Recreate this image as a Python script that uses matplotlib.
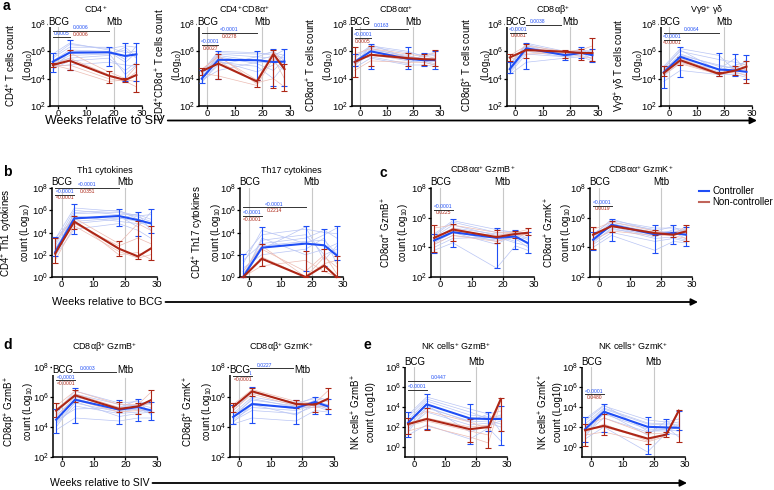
import numpy as np
import matplotlib
matplotlib.use("Agg")
import matplotlib.pyplot as plt
from matplotlib.lines import Line2D
from matplotlib.ticker import LogFormatterSciNotation, NullLocator

plt.rcParams['font.family'] = ['Liberation Sans', 'DejaVu Sans']
plt.rcParams['mathtext.fontset'] = 'custom'
plt.rcParams['mathtext.rm'] = 'Liberation Sans'
plt.rcParams['mathtext.it'] = 'Liberation Sans:italic'
plt.rcParams['mathtext.bf'] = 'Liberation Sans:bold'

BLUE = '#1f4ef5'; RED = '#ad2616'; LBLUE = '#b9c5f4'; LRED = '#ecbcb3'
W, H = 774, 490

# weeks of sampling; all values below are log10 counts
weeks = [-2, 4, 18, 24, 28]

# rows: mean, lower whisker, upper whisker
cd4_ctrl = [[5.24, 5.9, 5.93, 5.66, 5.78], [4.5, 4.6, 4.9, 3.8, 3.8], [5.85, 6.8, 6.35, 6.6, 6.6]]
cd4_nc = [[5.0, 5.32, 4.22, 3.9, 4.27], [4.85, 4.6, 3.7, 3.75, 3.05], [5.15, 6.1, 4.55, 4.05, 5.1]]
cd4_ind_c = [[5.6, 6.5, 6.2, 6.4, 6.3], [5.3, 6.1, 6.0, 5.2, 5.9], [5.0, 5.7, 5.8, 6.1, 5.5],
             [4.7, 5.3, 5.5, 4.6, 5.2], [5.5, 6.3, 6.3, 5.9, 6.0], [4.9, 5.0, 5.2, 5.0, 4.9],
             [5.8, 6.6, 6.1, 5.4, 6.4], [5.1, 5.5, 5.7, 6.3, 5.6], [4.6, 6.0, 5.9, 4.3, 5.0]]
cd4_ind_n = [[5.1, 5.9, 4.5, 4.0, 4.9], [4.9, 5.0, 4.0, 3.8, 3.4], [5.0, 4.7, 3.8, 3.9, 4.5],
             [5.0, 5.5, 4.3, 3.9, 3.8]]
cd4_sig = [(-2, 18, 7.5, '0.0006', '0.0006'), (-2, 4, 7.05, '0.0005', None)]

dp_ctrl = [[4.0, 5.38, 5.35, 5.22, 5.25], [3.7, 4.0, 3.9, 3.5, 3.5], [4.6, 6.0, 6.0, 6.2, 6.2]]
dp_nc = [[4.55, 5.1, 3.8, 5.8, 4.7], [4.3, 4.0, 3.4, 3.3, 3.1], [4.8, 5.8, 3.9, 6.1, 5.1]]
dp_ind_c = [[4.4, 5.9, 5.8, 5.9, 5.7], [4.1, 5.6, 5.1, 4.6, 5.4], [3.8, 5.0, 5.6, 5.5, 4.9],
            [4.2, 5.3, 4.5, 5.0, 5.8], [3.9, 4.6, 5.2, 5.2, 4.6], [4.0, 5.8, 5.6, 6.0, 5.3],
            [4.5, 6.0, 5.9, 5.7, 6.1], [3.7, 5.2, 4.9, 4.0, 5.0], [4.3, 5.7, 5.3, 5.7, 5.5]]
dp_ind_n = [[4.7, 5.6, 3.9, 6.0, 5.0], [4.4, 4.2, 3.5, 5.5, 4.0], [4.5, 5.3, 3.7, 4.0, 3.4],
            [4.6, 5.7, 3.6, 5.9, 4.6]]
dp_sig = [(-2, 18, 7.35, '<0.0001', '0.0278'), (-2, 4, 6.45, '<0.0001', '0.0027')]

aa_ctrl = [[5.22, 6.0, 5.45, 5.35, 5.35], [4.9, 4.7, 4.7, 4.9, 4.7], [5.8, 6.5, 6.3, 5.9, 6.0]]
aa_nc = [[5.22, 5.75, 5.5, 5.42, 5.4], [4.1, 4.9, 4.9, 5.0, 4.9], [6.3, 6.4, 5.9, 5.8, 6.1]]
aa_ind_c = [[5.5, 6.3, 5.9, 5.7, 5.8], [5.0, 5.8, 5.3, 5.2, 5.0], [5.3, 6.2, 5.6, 5.5, 5.5],
            [4.8, 5.5, 5.0, 5.0, 4.9], [5.6, 6.4, 6.0, 5.6, 5.7], [5.1, 6.1, 5.7, 5.4, 5.4],
            [5.4, 5.6, 5.1, 5.8, 5.9], [4.9, 6.5, 5.5, 5.3, 5.1]]
aa_ind_n = [[5.8, 6.2, 5.8, 5.6, 5.9], [4.6, 5.3, 5.2, 5.2, 5.0], [5.3, 5.7, 5.4, 5.5, 5.3],
            [5.0, 6.0, 5.6, 5.4, 5.6]]
aa_sig = [(-2, 18, 7.62, '0.0163', None), (-2, 4, 6.97, '<0.0001', '0.0005')]

ab_ctrl = [[4.7, 6.22, 5.72, 5.88, 5.72], [4.4, 4.7, 5.4, 5.5, 5.2], [5.2, 6.6, 6.0, 6.3, 6.2]]
ab_nc = [[5.55, 6.1, 5.97, 5.88, 5.88], [5.3, 5.5, 5.5, 5.4, 5.3], [5.8, 6.5, 6.1, 6.2, 7.0]]
ab_ind_c = [[5.0, 6.5, 5.9, 6.1, 6.0], [4.5, 6.0, 5.6, 5.7, 5.5], [4.8, 6.3, 5.8, 6.0, 5.9],
            [4.3, 5.2, 5.5, 5.6, 5.3], [5.1, 6.4, 5.7, 5.9, 5.8], [4.6, 6.1, 5.8, 6.2, 5.6],
            [4.9, 6.6, 6.0, 5.8, 6.1], [4.4, 5.8, 5.6, 5.9, 5.4]]
ab_ind_n = [[5.7, 6.4, 6.0, 6.1, 6.4], [5.4, 5.8, 5.9, 5.6, 5.5], [5.5, 6.2, 6.0, 5.9, 5.9],
            [5.6, 6.0, 5.8, 6.0, 5.7]]
ab_sig = [(-2, 18, 7.92, '0.0038', None), (-2, 4, 7.37, '<0.0001', '0.0081')]

gd_ctrl = [[4.47, 5.6, 4.67, 4.6, 4.5], [3.3, 4.1, 4.2, 4.2, 4.0], [4.9, 6.3, 5.9, 5.8, 5.7]]
gd_nc = [[4.42, 5.35, 4.35, 4.6, 4.88], [4.2, 5.0, 4.2, 4.3, 3.7], [4.9, 5.6, 4.5, 4.9, 5.3]]
gd_ind_c = [[4.8, 6.0, 5.4, 5.2, 5.0], [4.3, 5.4, 4.5, 4.4, 4.3], [4.6, 5.8, 4.9, 4.8, 4.7],
            [3.8, 4.6, 4.3, 4.3, 4.1], [4.7, 6.1, 4.6, 5.0, 5.2], [4.5, 5.7, 5.0, 4.7, 4.8],
            [4.2, 5.2, 4.7, 5.5, 4.5], [4.9, 6.2, 5.7, 4.6, 5.4]]
gd_ind_n = [[4.7, 5.5, 4.4, 4.8, 5.1], [4.3, 5.1, 4.3, 4.5, 4.2], [4.3, 5.4, 4.4, 4.5, 5.0],
            [4.5, 5.2, 4.3, 4.6, 4.7]]
gd_sig = [(-2, 18, 7.37, '0.0064', None), (-2, 4, 6.85, '<0.0001', '<0.0001')]

th1_ctrl = [[2.24, 5.27, 5.48, 5.12, 4.82], [1.9, 3.9, 4.6, 3.7, 4.0], [3.6, 6.6, 6.1, 5.8, 6.1]]
th1_nc = [[2.1, 4.97, 2.55, 1.85, 2.55], [1.3, 4.3, 1.9, 1.6, 1.5], [3.5, 5.5, 3.2, 5.0, 4.6]]
th1_ind_c = [[3.4, 6.2, 5.9, 5.5, 5.6], [2.0, 5.0, 5.3, 5.0, 4.5], [2.8, 5.7, 5.8, 5.4, 5.0],
             [1.9, 4.3, 4.8, 4.2, 3.5], [2.5, 5.5, 5.0, 4.8, 4.9], [3.0, 6.0, 5.6, 5.6, 5.2],
             [2.2, 5.8, 6.0, 5.2, 4.8], [3.5, 5.2, 5.5, 4.5, 5.8], [2.6, 4.8, 5.2, 5.7, 4.2]]
th1_ind_n = [[3.2, 5.3, 3.0, 4.8, 4.2], [1.5, 4.6, 2.3, 1.7, 2.0], [2.0, 5.1, 2.0, 2.2, 1.6],
             [2.5, 4.8, 2.8, 3.5, 3.0]]
th1_sig = [(-2, 18, 8.0, '<0.0001', '0.0351'), (-2, 4, 7.4, '<0.0001', '<0.0001')]

th17_ctrl = [[0.0, 2.64, 3.0, 2.85, 1.94], [0.0, 1.6, 0.5, 1.0, 1.5], [2.1, 4.5, 4.6, 4.3, 4.6]]
th17_nc = [[0.0, 1.64, 0.0, 1.03, 0.0], [0.0, 1.0, 0.0, 0.5, 0.0], [0.0, 3.0, 2.3, 2.5, 1.9]]
th17_ind_c = [[1.8, 3.8, 4.3, 4.0, 3.9], [0.5, 2.8, 3.2, 3.3, 2.1], [0.0, 3.3, 3.8, 2.0, 2.5],
              [0.8, 2.0, 2.5, 3.5, 1.2], [0.0, 3.5, 2.0, 2.5, 3.0], [1.2, 4.2, 3.0, 3.8, 4.4],
              [0.3, 2.5, 4.5, 1.5, 2.8], [1.5, 3.0, 3.5, 4.2, 3.5]]
th17_ind_n = [[0.0, 2.5, 0.5, 2.0, 0.3], [0.0, 1.0, 1.5, 0.5, 0.0], [0.0, 1.8, 0.0, 1.2, 1.5],
              [0.5, 2.8, 0.0, 1.8, 0.9]]
th17_sig = [(-2, 18, 6.27, '<0.0001', '0.2214'), (-2, 4, 5.5, '<0.0001', '<0.0001')]

aab_ctrl = [[4.46, 5.02, 4.64, 4.73, 4.29], [3.6, 4.0, 2.6, 3.9, 3.6], [4.9, 5.9, 5.3, 5.2, 5.0]]
aab_nc = [[4.64, 5.2, 4.69, 4.9, 4.98], [3.7, 4.4, 4.3, 4.6, 4.8], [5.5, 5.6, 5.2, 5.1, 5.3]]
aab_ind_c = [[4.8, 5.7, 5.0, 5.1, 4.9], [4.2, 4.8, 4.5, 4.6, 4.0], [4.6, 5.3, 4.9, 4.9, 4.5],
             [3.8, 4.3, 2.6, 4.1, 3.8], [4.5, 5.1, 4.4, 4.8, 4.3], [4.0, 4.6, 4.7, 4.3, 4.1],
             [4.7, 5.5, 4.8, 4.4, 4.7], [4.3, 5.0, 4.2, 4.9, 4.2], [4.9, 5.8, 5.2, 5.0, 4.6]]
aab_ind_n = [[5.3, 5.5, 5.0, 5.0, 5.2], [4.2, 4.8, 4.4, 4.7, 4.9], [4.5, 5.3, 4.6, 4.9, 5.0],
             [4.8, 5.1, 4.8, 5.0, 4.8]]
aab_sig = [(-2, 4, 6.55, '<0.0001', '0.0225')]

aak_ctrl = [[4.51, 5.52, 4.87, 4.96, 4.85], [3.8, 4.4, 3.6, 4.2, 4.1], [5.0, 5.9, 5.5, 5.5, 5.4]]
aak_nc = [[4.85, 5.43, 4.96, 4.85, 5.07], [3.9, 5.0, 4.8, 4.7, 4.4], [5.4, 5.8, 5.2, 5.0, 5.5]]
aak_ind_c = [[4.9, 5.8, 5.3, 5.3, 5.2], [4.3, 5.3, 4.6, 4.7, 4.5], [4.6, 5.6, 5.0, 5.1, 5.0],
             [4.0, 4.8, 3.8, 4.4, 4.3], [4.7, 5.7, 5.2, 4.8, 5.3], [4.4, 5.2, 4.9, 5.0, 4.6],
             [4.8, 5.9, 5.1, 5.4, 4.9], [4.2, 5.0, 4.4, 4.6, 4.4], [4.6, 5.4, 4.7, 5.2, 5.1]]
aak_ind_n = [[5.2, 5.7, 5.1, 4.9, 5.4], [4.5, 5.1, 4.8, 4.8, 4.6], [4.8, 5.5, 5.0, 4.8, 5.2],
             [4.9, 5.4, 5.0, 4.9, 5.0]]
aak_sig = [(-2, 4, 6.8, '<0.0001', '0.0019')]

abb_ctrl = [[4.49, 5.82, 5.16, 5.33, 5.11], [3.6, 4.3, 4.2, 4.4, 4.5], [5.2, 6.6, 5.8, 5.9, 5.7]]
abb_nc = [[5.09, 6.11, 5.2, 5.38, 5.78], [4.7, 5.7, 5.0, 4.9, 5.0], [5.6, 6.5, 5.7, 5.6, 6.5]]
abb_ind_c = [[5.0, 6.4, 5.6, 5.7, 5.5], [4.3, 5.6, 5.0, 5.2, 5.0], [4.7, 6.0, 5.3, 5.5, 5.3],
             [3.8, 4.6, 4.4, 4.6, 4.6], [4.5, 5.9, 5.1, 5.2, 4.9], [4.2, 5.4, 4.9, 5.0, 5.2],
             [4.9, 6.2, 5.5, 5.4, 5.6], [4.4, 5.2, 5.3, 5.8, 4.8], [4.0, 5.7, 4.7, 4.9, 5.0]]
abb_ind_n = [[5.4, 6.4, 5.5, 5.5, 6.3], [4.8, 5.8, 5.0, 5.1, 5.2], [5.1, 6.1, 5.1, 5.4, 5.8],
             [5.2, 6.2, 5.3, 5.3, 5.6]]
abb_sig = [(-2, 18, 7.69, '0.0003', None), (-2, 4, 7.11, '<0.0001', '<0.0001')]

abk_ctrl = [[4.67, 5.53, 5.27, 5.67, 5.38], [4.2, 4.3, 4.2, 4.9, 4.9], [5.5, 6.7, 5.8, 6.0, 5.9]]
abk_nc = [[5.33, 6.38, 5.53, 5.49, 5.87], [5.0, 6.1, 5.3, 5.0, 5.2], [5.6, 6.6, 5.8, 5.6, 6.6]]
abk_ind_c = [[5.1, 6.3, 5.6, 5.9, 5.7], [4.5, 5.3, 5.1, 5.5, 5.2], [4.8, 5.8, 5.4, 5.7, 5.5],
             [4.2, 4.6, 4.4, 5.1, 5.0], [4.7, 5.6, 5.2, 5.8, 5.3], [4.4, 5.1, 4.9, 5.4, 5.1],
             [4.9, 6.0, 5.5, 6.0, 5.8], [4.3, 5.5, 4.8, 5.6, 5.2], [4.6, 5.9, 5.3, 5.3, 5.5]]
abk_ind_n = [[5.5, 6.5, 5.7, 5.6, 6.4], [5.1, 6.2, 5.4, 5.3, 5.4], [5.3, 6.4, 5.5, 5.5, 5.8],
             [5.4, 6.3, 5.6, 5.4, 5.9]]
abk_sig = [(-2, 18, 7.91, '0.0227', None), (-2, 4, 7.38, '<0.0001', '<0.0001')]

nkb_ctrl = [[2.42, 4.27, 2.86, 2.8, 2.8], [1.0, 1.8, 0.3, 1.6, 0.2], [3.5, 5.3, 4.3, 3.5, 4.1]]
nkb_nc = [[2.29, 2.8, 1.78, 2.0, 4.8], [1.3, 1.7, 0.5, -0.1, 1.6], [2.9, 3.9, 2.8, 2.0, 4.9]]
nkb_ind_c = [[3.2, 5.0, 3.8, 3.3, 3.6], [2.0, 4.0, 2.5, 2.6, 2.3], [2.7, 4.6, 3.2, 3.0, 3.0],
             [1.2, 2.2, 0.8, 1.9, 0.6], [2.5, 4.3, 2.8, 2.9, 2.9], [1.8, 3.5, 2.2, 2.4, 2.0],
             [3.0, 4.8, 3.5, 2.8, 3.2], [2.3, 4.2, 1.5, 2.2, 2.6], [1.5, 3.9, 2.6, 3.3, 1.5]]
nkb_ind_n = [[2.7, 3.6, 2.5, 1.8, 4.9], [1.6, 2.1, 1.0, 0.4, 4.5], [2.4, 2.9, 2.0, 2.2, 4.7],
             [2.1, 2.6, 1.6, 1.2, 4.8]]
nkb_sig = [(-2, 18, 6.62, '0.0447', None), (-2, 4, 5.72, '<0.0001', None)]

nkk_ctrl = [[1.78, 3.53, 2.02, 1.95, 1.92], [0.5, 1.5, -0.7, 1.3, 1.7], [3.0, 4.3, 3.0, 2.8, 3.6]]
nkk_nc = [[1.68, 2.12, 0.84, 1.24, 3.63], [0.1, 1.2, 0.3, 1.0, 0.5], [2.3, 3.3, 1.5, 1.5, 3.7]]
nkk_ind_c = [[2.6, 4.1, 2.7, 2.5, 2.8], [1.5, 3.3, 1.8, 1.7, 1.6], [2.0, 3.8, 2.3, 2.2, 2.3],
             [0.8, 2.0, -0.5, 1.4, 1.2], [1.9, 3.6, 2.0, 2.0, 1.0], [1.3, 2.9, 1.5, 1.8, 2.2],
             [2.3, 3.9, 2.4, 2.3, 2.5], [1.0, 3.5, 1.2, 2.6, 1.9], [2.8, 4.2, 1.6, 1.6, 2.0]]
nkk_ind_n = [[2.1, 2.9, 1.3, 1.4, 3.7], [1.2, 1.5, 0.5, 1.1, 3.5], [1.7, 2.0, 0.8, 1.2, 3.6],
             [1.5, 2.3, 0.6, 1.3, 3.6]]
nkk_sig = [(-2, 4, 5.28, '<0.0001', '0.0480')]

fig = plt.figure(figsize=(W/100, H/100), dpi=100)

def panel(box, title, ylab, ylo, ctrl, nc, ind_c, ind_n, sig, tpad, ldy, vtop, loff):
    l, r, t, b = box
    ax = fig.add_axes([l/W, 1-b/H, (r-l)/W, (b-t)/H])
    for v in (0, 20):
        ax.axvline(v, ymax=vtop, color='#c8c8c8', lw=0.8, zorder=0)
    for row in ind_c:
        ax.plot(weeks, 10**np.array(row), color=LBLUE, lw=0.5, zorder=1, clip_on=False)
    for row in ind_n:
        ax.plot(weeks, 10**np.array(row), color=LRED, lw=0.5, zorder=1, clip_on=False)
    for d, c in ((ctrl, BLUE), (nc, RED)):
        m, lo, hi = (10**np.array(v) for v in d)
        ax.errorbar(weeks, m, yerr=[m-lo, hi-m], color=c, lw=1.5, elinewidth=0.8,
                    capsize=2, capthick=0.8, zorder=3, clip_on=False)
    for x0, x1, y, tb, tr in sig:
        ax.plot([x0, x1], [10**y]*2, color='#333333', lw=0.7, clip_on=False, zorder=4)
        xm = (x0+x1)/2
        if tb: ax.annotate(tb, (xm, 10**y), xytext=(0, 0.5), textcoords='offset points', ha='center', va='bottom', fontsize=3.6, color=BLUE, annotation_clip=False)
        if tr: ax.annotate(tr, (xm, 10**y), xytext=(0, -0.5), textcoords='offset points', ha='center', va='top', fontsize=3.6, color=RED, annotation_clip=False)
    for x, s in ((0, 'BCG'), (20, 'Mtb')):
        ax.annotate(s, (x, 1), xycoords=('data', 'axes fraction'), xytext=(0, ldy*0.72),
                    textcoords='offset points', ha='center', va='center', fontsize=7, zorder=6,
                    bbox=dict(boxstyle='square,pad=0', fc='white', ec='none'))
    ax.set_yscale('log')
    ax.set_ylim(10**ylo, 1e8)
    ax.set_yticks([10**k for k in range(max(ylo, 0), 9, 2)])
    ax.yaxis.set_major_formatter(LogFormatterSciNotation())
    ax.yaxis.set_minor_locator(NullLocator())
    ax.set_xlim(-3, 30)
    ax.set_xticks([0, 10, 20, 30])
    for s in ('top', 'right'):
        ax.spines[s].set_visible(False)
    for s in ('left', 'bottom'):
        ax.spines[s].set_linewidth(1.1)
    ax.tick_params(labelsize=6.8, length=2, width=0.9, pad=0.8)
    ax.tick_params(axis='x', pad=0.3)
    ax.set_ylabel(ylab, fontsize=7, linespacing=1.3, va='center')
    ax.yaxis.set_label_coords(-loff/(r-l), 0.5)
    ax.set_title(title, fontsize=6.5, pad=tpad)
    return ax

L10 = '(Log$_{10}$)'
# row a
ra = (24, 106)
panel((50, 142) + ra, 'CD4$^{+}$', 'CD4$^{+}$ T cells count\n' + L10, 2, cd4_ctrl, cd4_nc, cd4_ind_c, cd4_ind_n, cd4_sig, 8, 2, 0.96, 30)
panel((199, 290) + ra, 'CD4$^{+}$CD8α$^{+}$', 'CD4$^{+}$CD8α$^{+}$ T cells count\n' + L10, 2, dp_ctrl, dp_nc, dp_ind_c, dp_ind_n, dp_sig, 8, 2, 0.96, 30)
panel((352, 440) + ra, 'CD8αα$^{+}$', 'CD8αα$^{+}$ T cells count\n' + L10, 2, aa_ctrl, aa_nc, aa_ind_c, aa_ind_n, aa_sig, 8, 2, 0.96, 32)
panel((507, 598) + ra, 'CD8αβ$^{+}$', 'CD8αβ$^{+}$ T cells count\n' + L10, 2, ab_ctrl, ab_nc, ab_ind_c, ab_ind_n, ab_sig, 8, 2, 0.96, 30)
panel((661, 752) + ra, 'Vγ9$^{+}$ γδ', 'Vγ9$^{+}$ γδ T cells count\n' + L10, 2, gd_ctrl, gd_nc, gd_ind_c, gd_ind_n, gd_sig, 8, 2, 0.96, 32)
# row b / c
rb = (188, 277)
panel((52, 157) + rb, 'Th1 cytokines', 'CD4$^{+}$ Th1 cytokines\ncount ' + L10, 0, th1_ctrl, th1_nc, th1_ind_c, th1_ind_n, th1_sig, 11, 6, 1.0, 36)
panel((240, 343) + rb, 'Th17 cytokines', 'CD4$^{+}$ Th17 cytokines\ncount ' + L10, 0, th17_ctrl, th17_nc, th17_ind_c, th17_ind_n, th17_sig, 11, 6, 1.0, 33)
panel((431, 534) + rb, 'CD8αα$^{+}$ GzmB$^{+}$', 'CD8αα$^{+}$ GzmB$^{+}$\ncount ' + L10, 2, aab_ctrl, aab_nc, aab_ind_c, aab_ind_n, aab_sig, 11, 6, 1.0, 36)
panel((590, 692) + rb, 'CD8αα$^{+}$ GzmK$^{+}$', 'CD8αα$^{+}$ GzmK$^{+}$\ncount ' + L10, 2, aak_ctrl, aak_nc, aak_ind_c, aak_ind_n, aak_sig, 11, 6, 1.0, 32)
# row d / e
rd = (367, 457)
panel((53, 157) + rd, 'CD8αβ$^{+}$ GzmB$^{+}$', 'CD8αβ$^{+}$ GzmB$^{+}$\ncount ' + L10, 2, abb_ctrl, abb_nc, abb_ind_c, abb_ind_n, abb_sig, 12, -3, 0.88, 34)
panel((230, 334) + rd, 'CD8αβ$^{+}$ GzmK$^{+}$', 'CD8αβ$^{+}$ GzmK$^{+}$\ncount ' + L10, 2, abk_ctrl, abk_nc, abk_ind_c, abk_ind_n, abk_sig, 12, -3, 0.88, 32)
panel((405, 507) + rd, 'NK cells$^{+}$ GzmB$^{+}$', 'NK cells$^{+}$ GzmB$^{+}$\ncount (Log10)', -1, nkb_ctrl, nkb_nc, nkb_ind_c, nkb_ind_n, nkb_sig, 12, 5, 1.0, 42)
panel((582, 685) + rd, 'NK cells$^{+}$ GzmK$^{+}$', 'NK cells$^{+}$ GzmK$^{+}$\ncount (Log10)', -1, nkk_ctrl, nkk_nc, nkk_ind_c, nkk_ind_n, nkk_sig, 12, 5, 1.0, 32)

# overlay in pixel coordinates for letters and time arrows
ov = fig.add_axes([0, 0, 1, 1], zorder=-1)
ov.set_xlim(0, W); ov.set_ylim(H, 0); ov.axis('off')
for s, x, y in (('a', 3, 6), ('b', 3, 172), ('c', 380, 173), ('d', 3, 345), ('e', 364, 345)):
    ov.text(x, y, s, fontsize=10, fontweight='bold', va='center', ha='left')
for txt, x0, x1, y, fs in (('Weeks relative to SIV', 45, 757, 120.5, 9),
                           ('Weeks relative to BCG', 52, 698, 302, 7.8),
                           ('Weeks relative to SIV', 50, 687, 483, 7.5)):
    t = ov.text(x0, y, txt, fontsize=fs, va='center', ha='left')
    fig.canvas.draw()
    bb = t.get_window_extent().transformed(ov.transData.inverted())
    ov.annotate('', xy=(x1, y), xytext=(bb.x1 + 3, y),
                arrowprops=dict(arrowstyle='-|>', lw=1.3, color='k', mutation_scale=10, shrinkA=0, shrinkB=0))

handles = [Line2D([], [], color=BLUE, lw=1.5), Line2D([], [], color='#c0645a', lw=1.5)]
fig.legend(handles, ['Controller', 'Non-controller'], loc='upper left', bbox_to_anchor=(699/W, 1-186/H),
           frameon=False, fontsize=7, handlelength=1.0, handletextpad=0.4, labelspacing=0.15, borderaxespad=0, borderpad=0)

fig.savefig('out.png', dpi=100)
